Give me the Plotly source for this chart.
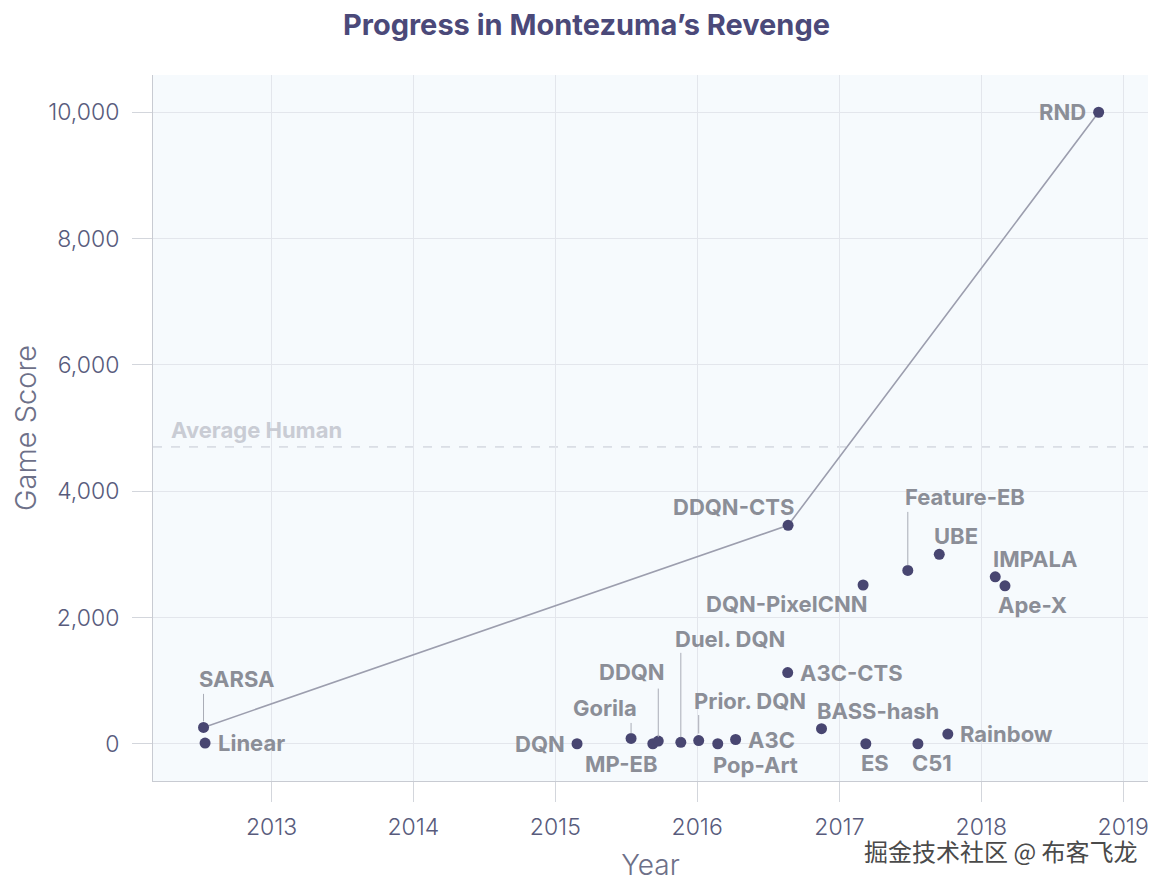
import plotly.graph_objects as go

# ---------------- data ----------------
names = ["SARSA", "Linear", "DQN", "Gorila", "MP-EB", "DDQN", "Duel. DQN", "Prior. DQN",
         "Pop-Art", "A3C", "A3C-CTS", "DDQN-CTS", "BASS-hash", "DQN-PixelCNN", "ES",
         "Feature-EB", "C51", "UBE", "Rainbow", "IMPALA", "Ape-X", "RND"]
dates = ["2012-07-10", "2012-07-14", "2015-02-26", "2015-07-15", "2015-09-09", "2015-09-23",
         "2015-11-20", "2016-01-05", "2016-02-23", "2016-04-09", "2016-08-21", "2016-08-22",
         "2016-11-16", "2017-03-03", "2017-03-10", "2017-06-26", "2017-07-22", "2017-09-15",
         "2017-10-07", "2018-02-06", "2018-03-03", "2018-10-30"]
scores = [259, 10.7, 0, 84, 0, 42, 22, 51, 0, 67, 1127, 3459, 238, 2514, 0, 2745, 0, 3000,
          154, 2643, 2500, 10000]
frontier = ["SARSA", "DDQN-CTS", "RND"]
HUMAN_SCORE = 4700
x_range = ["2012-03-02", "2019-03-06"]
y_range = [-590, 10590]
year_ticks = ["2013-01-01", "2014-01-01", "2015-01-01", "2016-01-01", "2017-01-01",
              "2018-01-01", "2019-01-01"]
year_labels = ["2013", "2014", "2015", "2016", "2017", "2018", "2019"]
score_ticks = [0, 2000, 4000, 6000, 8000, 10000]

# ---------------- label styling (pixel offsets) ----------------
# name: (xshift, yshift_down, xanchor)
label_pos = {
    "SARSA": (33, -48, "center"), "Linear": (11, 0, "left"), "DQN": (-10, 0, "right"),
    "Gorila": (-26, -30, "center"), "MP-EB": (-31, 20, "center"), "DDQN": (-26, -69, "center"),
    "Duel. DQN": (49, -103, "center"), "Prior. DQN": (51, -40, "center"),
    "Pop-Art": (38, 21, "center"), "A3C": (10, 0, "left"), "A3C-CTS": (10, 0, "left"),
    "DDQN-CTS": (-55, -18, "center"), "BASS-hash": (56, -18, "center"),
    "DQN-PixelCNN": (-77, 19, "center"), "ES": (9, 19, "center"),
    "Feature-EB": (57, -73, "center"), "C51": (14, 19, "center"), "UBE": (17, -18, "center"),
    "Rainbow": (10, 0, "left"), "IMPALA": (40, -18, "center"), "Ape-X": (28, 19, "center"),
    "RND": (-11, 0, "right"),
}
# name: (line top offset, standoff)
leaders = {"SARSA": (-35, 6), "Gorila": (-17, 5), "DDQN": (-54, 4), "Duel. DQN": (-91, 5),
           "Prior. DQN": (-27, 7), "Feature-EB": (-60, 5)}

LABEL_FONT = dict(family="Inter", size=22, color="#8b8e97", weight=700)
TICK_FONT = dict(family="Inter", size=23, color="#585b7c", weight=300)
AXIS_TITLE_COLOR = "#6d7088"

fig = go.Figure()
fx = [dates[names.index(n)] for n in frontier]
fy = [scores[names.index(n)] for n in frontier]
fig.add_trace(go.Scatter(x=fx, y=fy, mode="lines",
                         line=dict(color="#9c9eae", width=1.6), hoverinfo="skip"))
fig.add_trace(go.Scatter(x=dates, y=scores, mode="markers", text=names,
                         marker=dict(color="#484671", size=11)))

annotations = []
for n, d, s in zip(names, dates, scores):
    dx, dy, xa = label_pos[n]
    annotations.append(dict(x=d, y=s, xref="x", yref="y", text=n, showarrow=False,
                            xshift=dx, yshift=-dy, xanchor=xa, yanchor="middle",
                            font=LABEL_FONT))
    if n in leaders:
        top, so = leaders[n]
        annotations.append(dict(x=d, y=s, xref="x", yref="y", text="", showarrow=True,
                                ax=0, ay=top, arrowhead=0, arrowwidth=1,
                                arrowcolor="#a9acb6", standoff=so))

annotations.append(dict(x=0, y=HUMAN_SCORE, xref="paper", yref="y", text="Average Human",
                        showarrow=False, xanchor="left", yanchor="middle", xshift=16,
                        yshift=17, font=dict(family="Inter", size=22, color="#c9ccd4",
                                             weight=700)))
annotations.append(dict(x=1, y=0, xref="paper", yref="paper", text="掘金技术社区 @ 布客飞龙",
                        showarrow=False, xanchor="right", yanchor="middle", xshift=-9,
                        yshift=-69,
                        font=dict(family="Noto Sans CJK SC", size=24, color="#4a4a4a")))

fig.add_shape(type="line", xref="paper", x0=0, x1=1, yref="y", y0=HUMAN_SCORE,
              y1=HUMAN_SCORE, line=dict(color="#c5c8d2", width=1, dash="dash"), layer="below")

W, H = 1157, 877
fig.update_layout(
    width=W, height=H,
    margin=dict(l=145, r=17, t=67, b=104, autoexpand=False),
    paper_bgcolor="white", plot_bgcolor="#f6fafd",
    showlegend=False,
    title=dict(text="<b>Progress in Montezuma’s Revenge</b>", x=0.5, xanchor="center",
               y=1 - 17 / H, yanchor="middle",
               font=dict(family="Inter", size=29, color="#4b4979")),
    annotations=annotations,
)
fig.update_xaxes(type="date", range=x_range, tickvals=year_ticks, ticktext=year_labels,
                 automargin=False,
                 showgrid=True, gridcolor="#e3e6ec", gridwidth=1,
                 showline=True, linecolor="#c8cbd2", linewidth=1,
                 ticks="outside", ticklen=20, tickcolor="#d3d6dc", tickwidth=1,
                 tickfont=TICK_FONT, ticklabelstandoff=5,
                 title=dict(text="Year", font=dict(family="Inter", size=28,
                                                   color=AXIS_TITLE_COLOR, weight=300),
                            standoff=15),
                 zeroline=False)
fig.update_yaxes(range=y_range, tickvals=score_ticks, tickformat=",",
                 automargin=False,
                 showgrid=True, gridcolor="#e3e6ec", gridwidth=1,
                 showline=True, linecolor="#c8cbd2", linewidth=1,
                 ticks="outside", ticklen=20, tickcolor="#d3d6dc", tickwidth=1,
                 tickfont=TICK_FONT, ticklabelstandoff=8,
                 title=dict(text="Game Score", font=dict(family="Inter", size=29,
                                                         color=AXIS_TITLE_COLOR, weight=300),
                            standoff=17),
                 zeroline=False)

fig.write_html("out.html")
